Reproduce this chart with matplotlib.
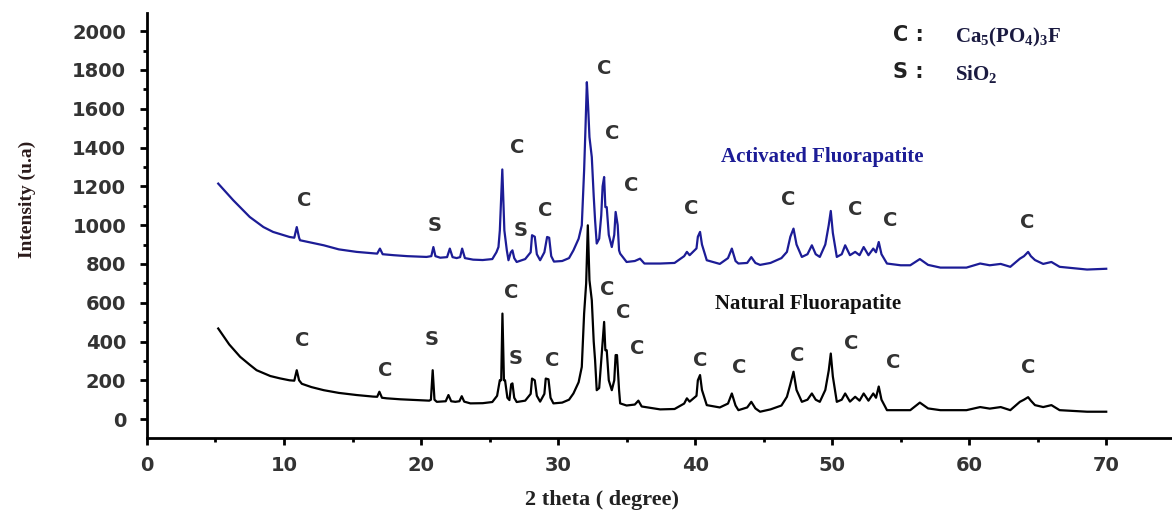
import matplotlib
matplotlib.use('Agg')
import matplotlib.pyplot as plt
from matplotlib.ticker import MultipleLocator

plt.rcParams['mathtext.default'] = 'regular'

# Natural fluorapatite trace (2 theta, intensity)
nat_x = [5.2, 6.0, 6.8, 7.5, 8.0, 9.0, 9.7, 10.4, 10.75, 10.93, 11.1, 11.3, 12.0, 12.9,
         14.0, 15.3, 16.5, 16.8, 16.96, 17.15, 17.5, 18.5, 19.7, 20.6, 20.72, 20.85, 20.98,
         21.15, 21.8, 22.0, 22.2, 22.5, 22.8, 22.97, 23.15, 23.6, 24.5, 25.2, 25.55, 25.75,
         25.85, 25.94, 26.05, 26.13, 26.3, 26.45, 26.58, 26.67, 26.8, 26.98, 27.6, 28.0, 28.1,
         28.3, 28.45, 28.69, 29.0, 29.1, 29.3, 29.45, 29.66, 30.3, 30.8, 31.12, 31.5, 31.73,
         31.9, 32.05, 32.17, 32.29, 32.46, 32.6, 32.7, 32.82, 33.0, 33.15, 33.25, 33.36, 33.45,
         33.55, 33.7, 33.92, 34.1, 34.2, 34.3, 34.45, 34.53, 35.0, 35.6, 35.86, 36.1, 37.45,
         38.5, 39.2, 39.4, 39.6, 40.1, 40.2, 40.36, 40.5, 40.85, 41.8, 42.4, 42.68, 42.95,
         43.16, 43.8, 44.1, 44.4, 44.74, 45.5, 46.3, 46.7, 46.95, 47.18, 47.4, 47.79, 48.2,
         48.52, 48.8, 49.1, 49.5, 49.75, 49.9, 50.05, 50.34, 50.7, 50.95, 51.3, 51.68, 52.0,
         52.3, 52.65, 53.0, 53.2, 53.4, 53.6, 54.0, 55.0, 55.7, 56.4, 57.0, 57.9, 59.8, 60.8,
         61.5, 62.3, 63.0, 63.7, 64.0, 64.3, 64.5, 64.8, 65.4, 66.0, 66.6, 68.6, 70.0]
nat_y = [467, 385, 321, 280, 252, 222, 210, 200, 198, 252, 200, 182, 165, 149,
         135, 124, 116, 115, 141, 110, 107, 102, 98, 95, 100, 252, 100,
         89, 92, 124, 92, 89, 92, 118, 90, 81, 82, 88, 120, 201,
         200, 544, 200, 200, 110, 98, 180, 184, 110, 88, 95, 130, 209,
         200, 120, 90, 130, 209, 205, 110, 81, 85, 100, 132, 190, 269,
         544, 700, 999, 716, 613, 400, 304, 149, 160, 300, 400, 501, 355,
         355, 200, 149, 200, 330, 330, 150, 81, 70, 75, 95, 65, 50,
         52, 80, 107, 90, 120, 200, 227, 150, 72, 60, 80, 132, 70,
         46, 60, 89, 55, 38, 50, 70, 115, 180, 244, 150, 89, 100,
         132, 100, 89, 150, 250, 338, 220, 89, 100, 132, 90, 115, 95,
         132, 95, 132, 110, 168, 100, 46, 46, 46, 85, 55, 46, 46, 62,
         54, 62, 46, 89, 100, 113, 95, 72, 62, 72, 46, 38, 38]

# Activated fluorapatite trace
act_x = [5.2, 6.3, 7.5, 8.5, 9.2, 10.4, 10.75, 10.93, 11.1, 11.17, 12.9, 14.0, 15.3, 16.8,
         17.0, 17.2, 18.0, 19.0, 20.4, 20.75, 20.9, 21.05, 21.4, 21.9, 22.1, 22.3, 22.6,
         22.85, 23.0, 23.2, 23.8, 24.5, 25.2, 25.5, 25.65, 25.75, 25.93, 26.08, 26.26, 26.38,
         26.55, 26.67, 26.8, 26.98, 27.6, 28.0, 28.1, 28.3, 28.45, 28.69, 29.0, 29.2, 29.35,
         29.5, 29.7, 30.3, 30.8, 31.12, 31.5, 31.73, 31.9, 32.0, 32.1, 32.2, 32.29, 32.46,
         32.6, 32.7, 32.82, 33.0, 33.15, 33.25, 33.36, 33.45, 33.55, 33.7, 33.92, 34.1, 34.2,
         34.35, 34.45, 34.53, 35.0, 35.6, 35.98, 36.3, 37.45, 38.5, 39.2, 39.4, 39.6, 40.1,
         40.2, 40.36, 40.5, 40.85, 41.8, 42.4, 42.68, 42.95, 43.16, 43.8, 44.1, 44.4, 44.74,
         45.5, 46.3, 46.7, 46.95, 47.18, 47.4, 47.79, 48.2, 48.52, 48.8, 49.1, 49.5, 49.75,
         49.9, 50.05, 50.34, 50.7, 50.95, 51.3, 51.68, 52.0, 52.3, 52.65, 53.0, 53.2, 53.4,
         53.6, 54.0, 55.0, 55.7, 56.4, 57.0, 57.9, 59.8, 60.8, 61.5, 62.3, 63.0, 63.7, 64.0,
         64.3, 64.5, 64.8, 65.4, 66.0, 66.6, 68.6, 70.0]
act_y = [1214, 1128, 1042, 990, 965, 939, 935, 990, 935, 922, 896, 875, 862, 853,
         879, 850, 845, 840, 836, 840, 887, 840, 832, 835, 879, 835, 830,
         835, 879, 830, 822, 820, 825, 860, 887, 973, 1287, 973, 870, 819,
         860, 870, 830, 810, 825, 860, 948, 940, 850, 819, 860, 939, 935,
         840, 812, 815, 830, 870, 930, 999, 1282, 1500, 1737, 1600, 1454, 1351,
         1150, 1025, 905, 930, 1050, 1200, 1248, 1093, 1093, 950, 887, 950, 1068,
         1000, 870, 853, 810, 815, 827, 802, 802, 805, 840, 862, 845, 880,
         940, 965, 900, 819, 800, 830, 879, 815, 802, 805, 835, 805, 795,
         805, 830, 862, 940, 982, 900, 836, 850, 896, 850, 836, 900, 1000,
         1073, 960, 836, 850, 896, 845, 862, 845, 887, 845, 879, 860, 913,
         850, 802, 793, 793, 825, 795, 781, 781, 802, 793, 800, 785, 827, 840,
         862, 840, 820, 800, 810, 785, 771, 775]

# Phase labels above the peaks
act_lbl_x = [11.5, 21.0, 27.0, 27.3, 29.05, 33.4, 33.95, 35.3, 39.7, 46.8, 51.7, 54.2, 64.2]
act_lbl_y = [1127, 999, 1400, 973, 1076, 1807, 1473, 1205, 1087, 1133, 1082, 1025, 1015]
act_lbl = ['C', 'S', 'C', 'S', 'C', 'C', 'C', 'C', 'C', 'C', 'C', 'C', 'C']

nat_lbl_x = [11.3, 17.4, 20.8, 26.6, 26.9, 29.6, 33.6, 34.75, 35.8, 40.4, 43.2, 47.45, 51.4, 54.45, 64.3]
nat_lbl_y = [407, 252, 412, 654, 314, 304, 669, 551, 366, 304, 268, 330, 391, 294, 268]
nat_lbl = ['C', 'C', 'S', 'C', 'S', 'C', 'C', 'C', 'C', 'C', 'C', 'C', 'C', 'C', 'C']

blue = '#1c1c96'

fig = plt.figure(figsize=(11.72, 5.12), dpi=100)
ax = fig.add_axes([0.1254, 0.1451, 0.8746, 0.8289])

ax.plot(act_x, act_y, color=blue, lw=1.6)
ax.plot(nat_x, nat_y, color='black', lw=1.6)

for x, y, s in zip(act_lbl_x, act_lbl_y, act_lbl):
    ax.text(x, y, s, ha='center', va='center', fontsize=14, fontweight='bold', color='#333333')
for x, y, s in zip(nat_lbl_x, nat_lbl_y, nat_lbl):
    ax.text(x, y, s, ha='center', va='center', fontsize=14, fontweight='bold', color='#333333')

# series names
fig.text(822 / 1172, 1 - 157 / 512, 'Activated Fluorapatite', ha='center', va='center',
         family='Liberation Serif', fontweight='bold', fontsize=15, color=blue)
fig.text(808 / 1172, 1 - 304 / 512, 'Natural Fluorapatite', ha='center', va='center',
         family='Liberation Serif', fontweight='bold', fontsize=15, color='#111111')

# key in the top right corner
fig.text(893 / 1172, 1 - 35 / 512, 'C :', ha='left', va='center', fontsize=15,
         fontweight='bold', color='#222222')
fig.text(893 / 1172, 1 - 72 / 512, 'S :', ha='left', va='center', fontsize=15,
         fontweight='bold', color='#222222')
fig.text(955 / 1172, 1 - 37 / 512, r'Ca$_5$(PO$_4$)$_3$F', ha='left', va='center',
         family='Liberation Serif', fontweight='bold', fontsize=15, color='#1a1a40')
fig.text(955 / 1172, 1 - 74 / 512, r'SiO$_2$', ha='left', va='center',
         family='Liberation Serif', fontweight='bold', fontsize=15, color='#1a1a40')

ax.set_xlim(0, 74.8)
ax.set_ylim(-96, 2092)
ax.xaxis.set_major_locator(MultipleLocator(10))
ax.xaxis.set_minor_locator(MultipleLocator(5))
ax.yaxis.set_major_locator(MultipleLocator(200))
ax.yaxis.set_minor_locator(MultipleLocator(100))
ax.set_yticks(range(0, 2001, 200))

for side in ['top', 'right']:
    ax.spines[side].set_visible(False)
for side in ['left', 'bottom']:
    ax.spines[side].set_linewidth(2)

ax.tick_params(which='major', length=5, width=2, labelsize=14)
ax.tick_params(axis='x', which='major', pad=8)
ax.tick_params(axis='y', which='major', pad=10)
ax.tick_params(which='minor', length=3, width=2)
for lab in ax.get_xticklabels() + ax.get_yticklabels():
    lab.set_fontweight('bold')
    lab.set_color('#333333')

fig.text(602 / 1172, 1 - 500 / 512, '2 theta ( degree)', ha='center', va='center',
         family='Liberation Serif', fontweight='bold', fontsize=16, color='#222222')
fig.text(27 / 1172, 1 - 199 / 512, 'Intensity (u.a)', ha='center', va='center', rotation=90,
         family='Liberation Serif', fontweight='bold', fontsize=14, color='#2a1a1a')

fig.savefig('out.png', dpi=100)
